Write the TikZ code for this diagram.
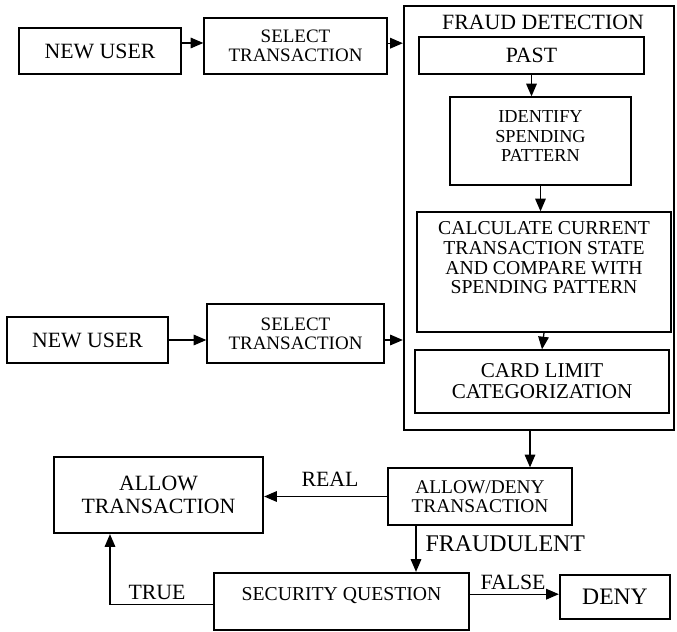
\documentclass[tikz,border=0pt]{standalone}
\usepackage{fontspec}
\setmainfont{Liberation Serif}
\usetikzlibrary{arrows.meta}

\newcommand{\fsz}[1]{\fontsize{#1}{#1}\selectfont}

\begin{document}
\begin{tikzpicture}[x=0.025cm, y=-0.025cm,
    blk/.style = {draw, line width=0.9pt, align=center, inner sep=0pt, font=\fsz{14}},
    thk/.style = {blk, line width=1.6pt},
    arr/.style = {-{Triangle[length=9pt,width=7.5pt]}, line width=0.9pt},
    lbl/.style = {font=\fsz{15.5}, inner sep=1pt}]
            \useasboundingbox (0,0) rectangle (677,631);
            %\draw[help lines] (0,0) grid[step=50] (677,631);

            % inputs
            \node[blk, minimum width=4.05cm, minimum height=1.15cm, font=\fsz{15.5}] (user1) at (100,51) {NEW USER};
            \node[blk, minimum width=4.575cm, minimum height=1.4cm, font=\fsz{13.5}] (sel1) at (295.5,46) {SELECT\\TRANSACTION};
            \node[blk, minimum width=4.025cm, minimum height=1.15cm, font=\fsz{15.5}] (user2) at (87.5,340) {NEW USER};
            \node[blk, minimum width=4.425cm, minimum height=1.475cm, font=\fsz{13.5}] (sel2) at (295.5,333.5) {SELECT\\TRANSACTION};

            % fraud detection block
            \node[thk, minimum width=6.75cm, minimum height=10.6cm] (fraud) at (539,218) {};
            \node[font=\fsz{15.5}, inner sep=0pt] (ftitle) at (543,22) {FRAUD DETECTION};
            \node[blk, minimum width=5.625cm, minimum height=0.925cm, font=\fsz{15.5}] (past) at (531.5,55.5) {PAST};
            \node[blk, minimum width=4.525cm, minimum height=2.2cm, font=\fsz{13}] (ident) at (540.5,141) {IDENTIFY\\[1pt]SPENDING\\[1pt]PATTERN\\[-6pt]\mbox{}};
            \node[blk, minimum width=6.35cm, minimum height=3cm] (calc) at (544,272) {CALCULATE CURRENT\\TRANSACTION STATE\\AND COMPARE WITH\\SPENDING PATTERN\\[6pt]\mbox{}};
            \node[blk, minimum width=6.35cm, minimum height=1.575cm, font=\fsz{15}] (card) at (542,381.5) {CARD LIMIT\\CATEGORIZATION};

            % decision part
            \node[blk, minimum width=4.6cm, minimum height=1.425cm, font=\fsz{13.8}] (adeny) at (480,496.5) {ALLOW/DENY\\TRANSACTION};
            \node[thk, minimum width=5.225cm, minimum height=1.9cm, font=\fsz{15.5}] (allow) at (158.5,495) {ALLOW\\[1pt]TRANSACTION};
            \node[thk, minimum width=6.375cm, minimum height=1.425cm] (secq) at (341.5,601.5) {SECURITY QUESTION\\[-4pt]\mbox{}};
            \node[thk, minimum width=2.75cm, minimum height=1.1cm, font=\fsz{16.8}] (deny) at (615,597) {DENY};

            % connectors
            \draw[arr] ([yshift=5.7pt]user1.east) coordinate (p1) -- (p1 -| sel1.west);
            \draw[arr] ([yshift=2pt]sel1.east) coordinate (p2) -- (p2 -| fraud.west);
            \draw[arr] (user2.east) -- (user2.east -| sel2.west);
            \draw[arr] (user2.east -| sel2.east) -- (user2.east -| fraud.west);
            \draw[arr] (past) -- (past |- ident.north);
            \draw[arr] (ident) -- (ident |- calc.north);
            \draw[arr] (calc.south) -- (card.north);
            \draw[arr] ([xshift=-6.4pt]fraud.south) coordinate (p3) -- (p3 |- adeny.north);
            \draw[arr] (adeny.west) -- (adeny.west -| allow.east);
            \draw[arr] ([xshift=-45.5pt]adeny.south) coordinate (p4) -- (p4 |- secq.north);
            \draw[arr] ([yshift=2pt]deny.west -| secq.east) -- ([yshift=2pt]deny.west);
            \draw[arr] ([yshift=-2pt]secq.west) -| ([xshift=-34.5pt]allow.south);

            % labels
            \node[lbl] (lreal) at (330,479) {REAL};
            \node[lbl, anchor=west, font=\fsz{17}] (lfraud) at (424,544) {FRAUDULENT};
            \node[lbl] (lfalse) at (513,582) {FALSE};
            \node[lbl] (ltrue) at (157,592) {TRUE};
\end{tikzpicture}
\end{document}
